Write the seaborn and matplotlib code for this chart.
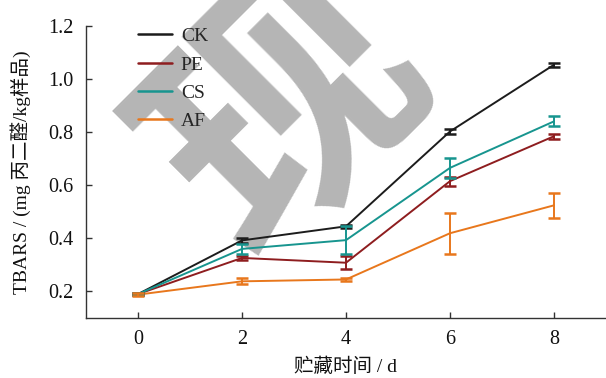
import numpy as np
import pandas as pd
import matplotlib
matplotlib.use("Agg")
import matplotlib.pyplot as plt
import seaborn as sns

# Storage days and TBARS means / standard deviations for each treatment
days = [0, 2, 4, 6, 8]
groups = ["CK", "PE", "CS", "AF"]
ck_mean = [0.190, 0.392, 0.445, 0.802, 1.053]
ck_sd = [0.004, 0.008, 0.005, 0.008, 0.008]
pe_mean = [0.190, 0.326, 0.308, 0.615, 0.784]
pe_sd = [0.004, 0.006, 0.025, 0.017, 0.010]
cs_mean = [0.190, 0.360, 0.393, 0.665, 0.840]
cs_sd = [0.004, 0.018, 0.053, 0.037, 0.019]
af_mean = [0.188, 0.238, 0.245, 0.419, 0.524]
af_sd = [0.005, 0.011, 0.006, 0.078, 0.048]
colors = ["#1c1c1c", "#8e1d1f", "#17958f", "#e8771c"]

means = {"CK": ck_mean, "PE": pe_mean, "CS": cs_mean, "AF": af_mean}
sds = {"CK": ck_sd, "PE": pe_sd, "CS": cs_sd, "AF": af_sd}

df = pd.DataFrame(
    [(d, g, m, s) for g in groups for d, m, s in zip(days, means[g], sds[g])],
    columns=["day", "group", "tbars", "sd"],
)

sns.set_theme(style="ticks")
serif_cjk = ["Liberation Serif", "Noto Sans CJK SC"]
plt.rcParams["font.family"] = serif_cjk
plt.rcParams["axes.unicode_minus"] = False

fig = plt.figure(figsize=(6.06, 3.78), dpi=100)
ax = fig.add_axes([86 / 606, 1 - 318 / 378, (606 - 86) / 606, (318 - 25.7) / 378])

# Diagonal background watermark
fig.text(290 / 606, 1 - 114 / 378, "现", fontsize=190, color="#b5b5b5",
         family="Noto Sans CJK SC", fontweight="bold", rotation=45,
         rotation_mode="anchor", ha="center", va="center", zorder=0)
ax.set_facecolor("none")
ax.set_zorder(2)

palette = dict(zip(groups, colors))
sns.lineplot(data=df, x="day", y="tbars", hue="group", hue_order=groups,
             palette=palette, linewidth=1.4, ax=ax, errorbar=None, legend=True)

for g in groups:
    sub = df[df.group == g]
    ax.errorbar(sub["day"], sub["tbars"], yerr=sub["sd"], fmt="none",
                ecolor=palette[g], elinewidth=1.4, capsize=4, capthick=1.8)

ax.set_xlim(-1, 9)
ax.set_ylim(0.1, 1.2)
ax.set_xticks(days)
ax.set_yticks([0.2, 0.4, 0.6, 0.8, 1.0, 1.2])
ax.set_yticklabels(["0.2", "0.4", "0.6", "0.8", "1.0", "1.2"])

for side in ["top", "right"]:
    ax.spines[side].set_visible(False)
for side in ["left", "bottom"]:
    ax.spines[side].set_color("#333333")
    ax.spines[side].set_linewidth(1.0)
ax.tick_params(axis="both", direction="in", length=4, width=1.0,
               color="#333333", labelsize=14.5, labelcolor="#111111", pad=9)
for lab in ax.get_xticklabels() + ax.get_yticklabels():
    lab.set_family(serif_cjk)

ax.set_xlabel("贮藏时间 / d", fontsize=14, family=serif_cjk, color="#111111",
              labelpad=6)
ax.set_ylabel("TBARS / (mg 丙二醛/kg样品)", fontsize=14, family=serif_cjk,
              color="#111111", labelpad=12)

leg = ax.legend(loc="upper left", bbox_to_anchor=(0.085, 1.02), frameon=False,
                fontsize=14, handlelength=1.75, handletextpad=0.45,
                labelspacing=0.55, borderaxespad=0)
for t in leg.get_texts():
    t.set_family(serif_cjk)
for h in leg.get_lines():
    h.set_linewidth(1.8)

fig.savefig("out.png", dpi=100)
